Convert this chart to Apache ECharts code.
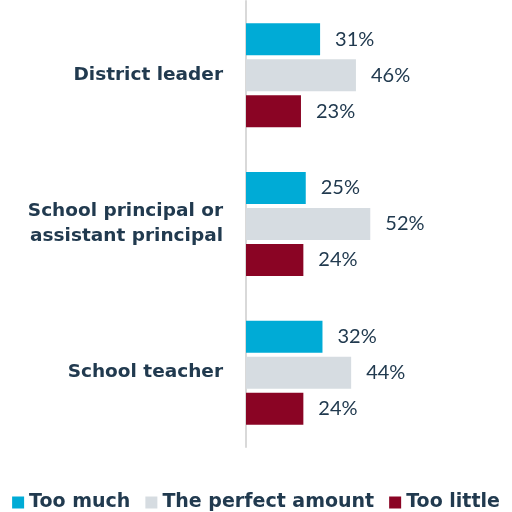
<!DOCTYPE html>
<html>
<head>
<meta charset="utf-8">
<script src="https://cdn.jsdelivr.net/npm/echarts@6/dist/echarts.min.js"></script>
<style>
  html, body { margin: 0; padding: 0; background: #ffffff; }
  #chart { width: 512px; height: 512px; }
</style>
</head>
<body>
<div id="chart"></div>
<script>
// Respondent roles (top to bottom)
var categories = ['District leader', 'School principal or\nassistant principal', 'School teacher'];

// Share of respondents per answer, in percent
var tooMuch = [31, 25, 32];
var perfectAmount = [46, 52, 44];
var tooLittle = [23, 24, 24];

var seriesNames = ['Too much', 'The perfect amount', 'Too little'];
var seriesColors = ['#00ABD6', '#D6DCE1', '#8A0424'];

var textColor = '#213A4F';

var chart = echarts.init(document.getElementById('chart'), null, { renderer: 'canvas' });

function barSeries(name, data, color) {
  return {
    name: name,
    type: 'bar',
    data: data,
    barWidth: 32,
    barGap: '12.5%',
    itemStyle: { color: color },
    label: {
      show: true,
      position: 'right',
      distance: 15,
      formatter: '{c}%',
      color: textColor,
      fontFamily: 'Lato',
      fontSize: 20
    }
  };
}

chart.setOption({
  animation: false,
  grid: { left: 246, right: 27, top: 1, bottom: 65, containLabel: false },
  xAxis: {
    type: 'value',
    min: 0,
    max: 100,
    show: false
  },
  yAxis: {
    type: 'category',
    data: categories,
    inverse: true,
    axisLine: { show: true, lineStyle: { color: '#D9D9D9', width: 2 } },
    axisTick: { show: false },
    axisLabel: {
      margin: 23,
      align: 'right',
      color: textColor,
      fontFamily: 'DejaVu Sans',
      fontWeight: 'bold',
      fontSize: 18.5,
      lineHeight: 25
    }
  },
  legend: {
    top: 488,
    left: 'center',
    itemWidth: 12,
    itemHeight: 12,
    itemGap: 15,
    icon: 'rect',
    textStyle: {
      color: textColor,
      fontFamily: 'DejaVu Sans',
      fontWeight: 'bold',
      fontSize: 19
    },
    data: seriesNames
  },
  series: [
    barSeries(seriesNames[0], tooMuch, seriesColors[0]),
    barSeries(seriesNames[1], perfectAmount, seriesColors[1]),
    barSeries(seriesNames[2], tooLittle, seriesColors[2])
  ]
});
</script>
</body>
</html>
